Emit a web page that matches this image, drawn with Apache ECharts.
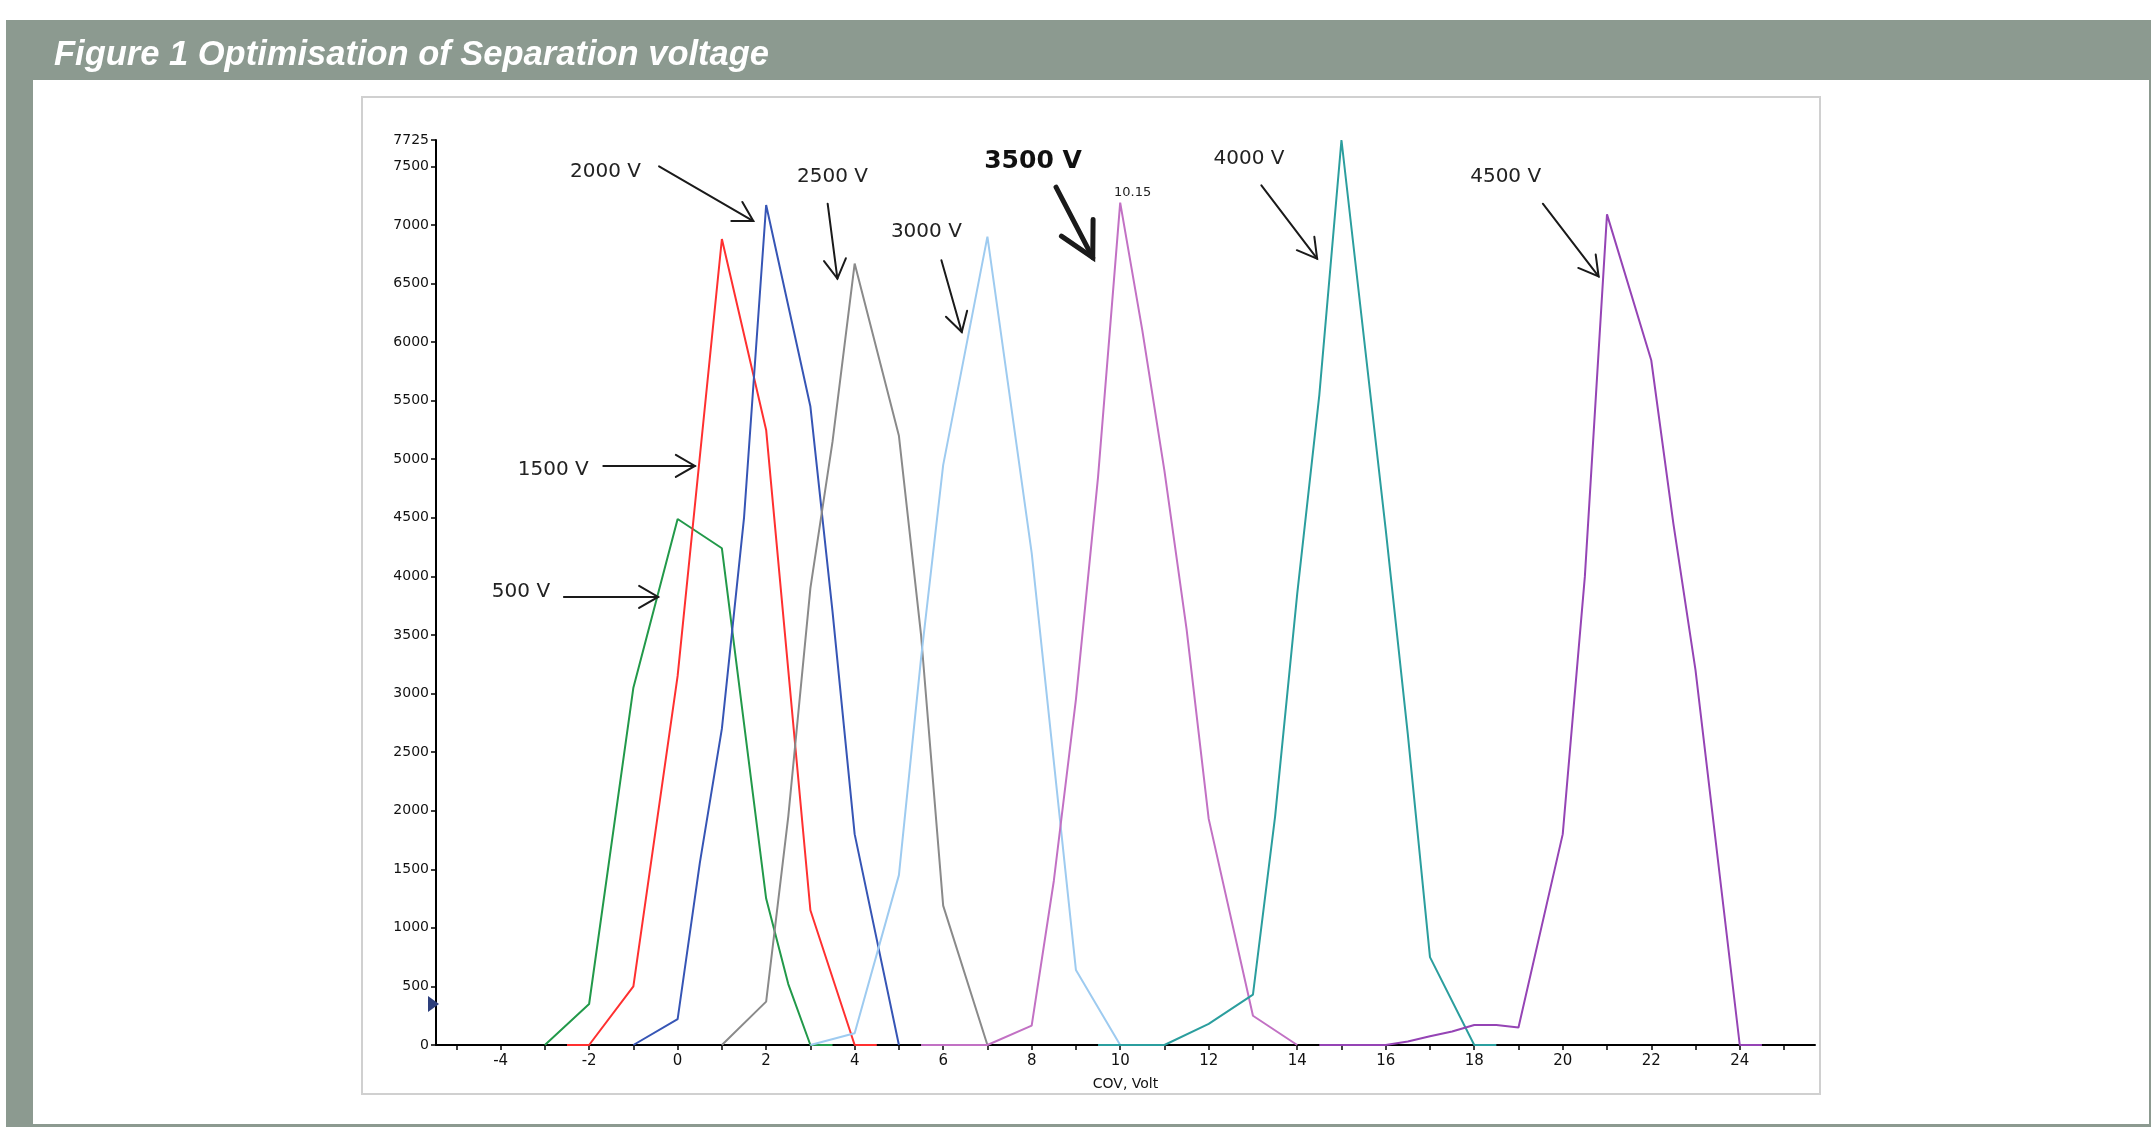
<!DOCTYPE html>
<html><head><meta charset="utf-8">
<script src="https://cdn.jsdelivr.net/npm/echarts@6/dist/echarts.min.js"></script>
<style>
html,body{margin:0;padding:0;background:#fff;overflow:hidden;}
#frame{position:absolute;left:6px;top:20px;width:2145px;height:1107px;background:#8c9a90;}
#panel{position:absolute;left:33px;top:80px;width:2116px;height:1044px;background:#fff;}
#box{position:absolute;left:361px;top:96px;width:1456px;height:995px;border:2px solid #d0d0d0;}
#chart{position:absolute;left:0;top:0;width:2151px;height:1127px;}
</style></head><body>
<div id="frame"></div><div id="panel"></div><div id="box"></div>
<div id="chart"></div>
<script>
// ---- data (COV in V, intensity) ----
const v500  = [[-3,0],[-2,350],[-1,3050],[0,4490],[1,4240],[2,1250],[2.5,520],[3,0],[3.5,0]];
const v1500 = [[-2.5,0],[-2,0],[-1,500],[0,3150],[1,6880],[2,5250],[3,1150],[4,0],[4.5,0]];
const v2000 = [[-1,0],[0,220],[0.5,1550],[1,2700],[1.5,4500],[2,7170],[3,5450],[3.5,3700],[4,1800],[5,0]];
const v2500 = [[1,0],[2,370],[2.5,1950],[3,3900],[3.5,5150],[4,6670],[5,5200],[5.5,3500],[6,1190],[7,0]];
const v3000 = [[3,0],[4,100],[5,1450],[5.5,3300],[6,4950],[7,6900],[8,4200],[9,640],[10,0]];
const v3500 = [[5.5,0],[7,0],[8,165],[8.5,1400],[9,2950],[9.5,4850],[10,7190],[10.5,6100],[11,4900],[11.5,3550],[12,1930],[13,250],[14,0]];
const v4000 = [[9.5,0],[11,0],[12,180],[13,430],[13.5,1950],[14,3850],[14.5,5550],[15,7725],[16,4400],[16.5,2650],[17,750],[18,0],[18.5,0]];
const v4500 = [[14.5,0],[16,0],[16.5,30],[17,75],[17.5,115],[18,170],[18.5,170],[19,150],[20,1800],[20.5,4000],[21,7090],[22,5845],[22.5,4450],[23,3200],[24,0],[24.5,0]];

const seriesNames = ['500 V','1500 V','2000 V','2500 V','3000 V','3500 V','4000 V','4500 V'];
const seriesData  = [v500, v1500, v2000, v2500, v3000, v3500, v4000, v4500];
const seriesColors = ['#22994a','#ff3030','#3655b5','#8a8a8a','#9ecbf0','#c271c4','#2b9e9e','#9544b5'];

const xLabelValues = [-4,-2,0,2,4,6,8,10,12,14,16,18,20,22,24];
const xTickValues  = [-5,-4,-3,-2,-1,0,1,2,3,4,5,6,7,8,9,10,11,12,13,14,15,16,17,18,19,20,21,22,23,24,25];
const yLabelValues = [0,500,1000,1500,2000,2500,3000,3500,4000,4500,5000,5500,6000,6500,7000,7500,7725];
const xMin = -5.46, xMax = 25.7, yMin = 0, yMax = 7725;

// annotations (data coordinates)
const annLabels = [
  {t:'2000 V', x:-1.63, y:7457}, {t:'2500 V', x:3.50, y:7410}, {t:'3000 V', x:5.62, y:6939},
  {t:'4000 V', x:12.91, y:7568}, {t:'4500 V', x:18.71, y:7410}, {t:'1500 V', x:-2.81, y:4914},
  {t:'500 V', x:-3.54, y:3868}
];
const boldLabel = {t:'3500 V', x:8.03, y:7542};
const peakLabel = {t:'10.15', x:10.28, y:7274};
const arrows = [
  [-0.42,7500,1.71,7033],[3.39,7181,3.61,6542],[5.96,6698,6.42,6086],
  [13.19,7338,14.45,6712],[19.55,7181,20.81,6561],[-1.68,4943,0.39,4943],[-2.57,3825,-0.44,3825]
];
const boldArrow = [8.55,7323,9.38,6721];
const markerValue = 350;

const chart = echarts.init(document.getElementById('chart'), null, {renderer:'canvas'});
const FONT = 'DejaVu Sans';
chart.setOption({
  animation:false,
  title:{text:'Figure 1 Optimisation of Separation voltage', left:49, top:33,
    textStyle:{color:'#ffffff', fontSize:34.5, fontWeight:'bold', fontStyle:'italic', fontFamily:'Liberation Sans'}},
  grid:{left:436, right:336, top:140, bottom:82, containLabel:false},
  xAxis:{type:'value', min:xMin, max:xMax,
    axisLine:{show:true, onZero:false, lineStyle:{color:'#000', width:2}},
    axisTick:{show:true, customValues:xTickValues, length:5, lineStyle:{color:'#000', width:1.5}},
    axisLabel:{customValues:xLabelValues, fontSize:15, color:'#111', margin:9, fontFamily:FONT,
      formatter:v=>String(v)},
    splitLine:{show:false},
    name:'COV, Volt', nameLocation:'middle', nameGap:32,
    nameTextStyle:{fontSize:14, color:'#111', fontFamily:FONT}},
  yAxis:{type:'value', min:yMin, max:yMax,
    axisLine:{show:true, onZero:false, lineStyle:{color:'#000', width:2}},
    axisTick:{show:true, customValues:yLabelValues, length:5, lineStyle:{color:'#000', width:1.5}},
    axisLabel:{customValues:yLabelValues, fontSize:14, color:'#111', margin:7, fontFamily:FONT,
      formatter:v=>String(v)},
    splitLine:{show:false}},
  series: seriesData.map((d,i)=>({
    name:seriesNames[i], type:'line', data:d, showSymbol:false, symbol:'none',
    lineStyle:{color:seriesColors[i], width:2}, itemStyle:{color:seriesColors[i]}, z:3+i
  }))
});

function px(x,y){ return chart.convertToPixel({gridIndex:0},[x,y]); }
function arrowEls(a, width, L, ang){
  const p1 = px(a[0],a[1]), p2 = px(a[2],a[3]);
  const dx=p2[0]-p1[0], dy=p2[1]-p1[1], n=Math.hypot(dx,dy);
  const ux=dx/n, uy=dy/n, r=ang*Math.PI/180;
  const w1=[p2[0]-L*(ux*Math.cos(r)-uy*Math.sin(r)), p2[1]-L*(uy*Math.cos(r)+ux*Math.sin(r))];
  const w2=[p2[0]-L*(ux*Math.cos(-r)-uy*Math.sin(-r)), p2[1]-L*(uy*Math.cos(-r)+ux*Math.sin(-r))];
  const st={stroke:'#1a1a1a', lineWidth:width, fill:null, lineCap:'round', lineJoin:'miter'};
  return [
    {type:'polyline', shape:{points:[p1,p2]}, style:st, z:50},
    {type:'polyline', shape:{points:[w1,p2,w2]}, style:st, z:50}
  ];
}
const els = [];
annLabels.forEach(a=>{
  const p=px(a.x,a.y);
  els.push({type:'text', x:p[0], y:p[1], z:50, style:{text:a.t, font:'20px "DejaVu Sans"', fill:'#222', align:'center', verticalAlign:'middle'}});
});
{ const p=px(boldLabel.x,boldLabel.y);
  els.push({type:'text', x:p[0], y:p[1], z:50, style:{text:boldLabel.t, font:'bold 25px "DejaVu Sans"', fill:'#111', align:'center', verticalAlign:'middle'}}); }
{ const p=px(peakLabel.x,peakLabel.y);
  els.push({type:'text', x:p[0], y:p[1], z:50, style:{text:peakLabel.t, font:'13px "DejaVu Sans"', fill:'#222', align:'center', verticalAlign:'middle'}}); }
arrows.forEach(a=>els.push(...arrowEls(a,2,22,30)));
els.push(...arrowEls(boldArrow,5,38,28));
{ const p=px(xMin,markerValue);
  els.push({type:'polygon', z:50, shape:{points:[[p[0]-8,p[1]-8],[p[0]+3,p[1]],[p[0]-8,p[1]+8]]}, style:{fill:'#2d3f7c'}}); }
chart.setOption({graphic:els});
</script>
</body></html>
